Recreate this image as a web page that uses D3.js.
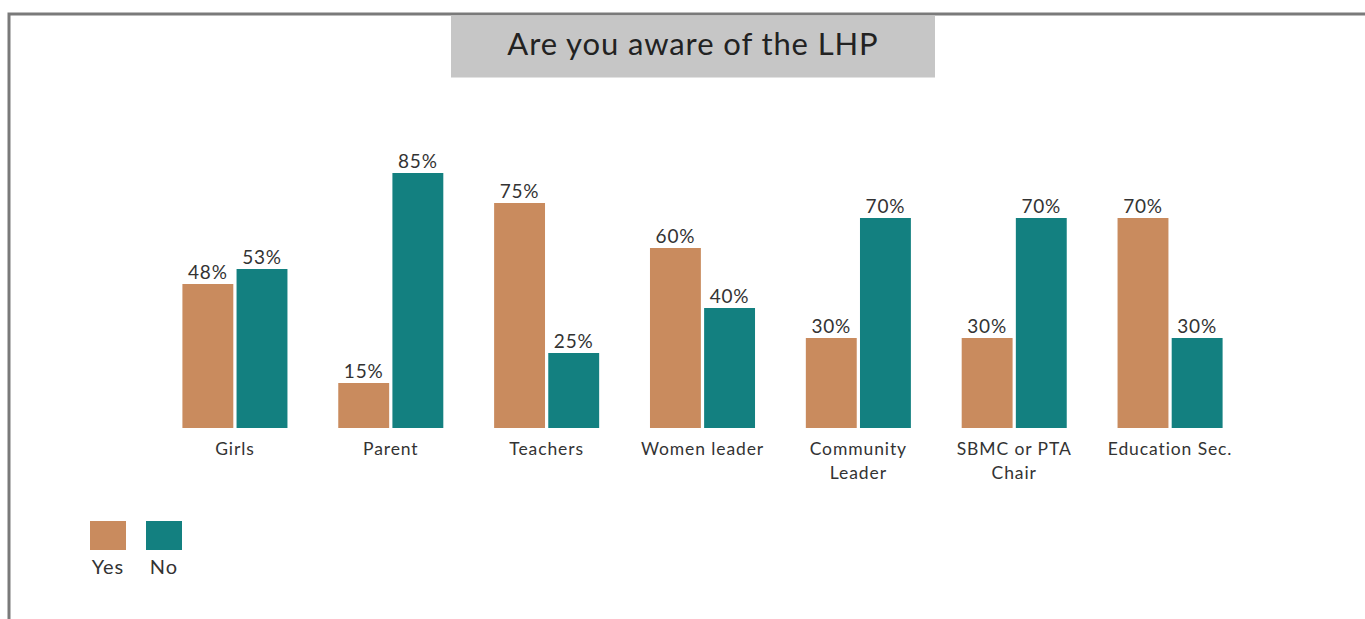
<!DOCTYPE html>
<html>
<head>
<meta charset="utf-8">
<script src="https://cdn.jsdelivr.net/npm/d3@7"></script>
<style>
  html, body { margin: 0; padding: 0; background: #fff; overflow: hidden; }
  svg text { font-family: Lato, "Noto Sans", sans-serif; fill: #333; }
</style>
</head>
<body>
<div id="chart"></div>
<script>
// datos
const categories = ["Girls", "Parent", "Teachers", "Women leader", "Community\nLeader", "SBMC or PTA\nChair", "Education Sec."];
const series = ["Yes", "No"];
const yesValues = [48, 15, 75, 60, 30, 30, 70];
const noValues = [53, 85, 25, 40, 70, 70, 30];
const colors = ["#c98b5e", "#138080"];

const width = 1365;
const height = 619;

const svg = d3
  .select("#chart")
  .append("svg")
  .attr("width", width)
  .attr("height", height);

// marco
svg.append("path")
  .attr("d", `M9,${height + 5} V14 H${width + 5}`)
  .attr("fill", "none")
  .attr("stroke", "#7a7a7a")
  .attr("stroke-width", 3);

// título
svg.append("rect")
  .attr("x", 451)
  .attr("y", 15.5)
  .attr("width", 484)
  .attr("height", 62)
  .attr("fill", "#c6c6c6");

svg.append("text")
  .attr("x", 693)
  .attr("y", 55)
  .attr("text-anchor", "middle")
  .style("font-size", "31px")
  .style("letter-spacing", "0.9px")
  .style("fill", "#222")
  .text("Are you aware of the LHP");

const rows = categories.map((c, i) => ({ cat: c, values: [yesValues[i], noValues[i]] }));

const x0 = d3.scaleBand()
  .domain(categories)
  .range([157, 1248])
  .paddingInner(0.326)
  .paddingOuter(0.163);

const x1 = d3.scaleBand()
  .domain(series)
  .range([0, x0.bandwidth()])
  .paddingInner(0.06);

const y = d3.scaleLinear().domain([0, 100]).range([428, 128]);

const groups = svg.selectAll("g.group")
  .data(rows)
  .enter()
  .append("g")
  .attr("class", "group")
  .attr("transform", (d) => `translate(${x0(d.cat)},0)`);

groups.selectAll("rect")
  .data((d) => d.values.map((v, j) => ({ key: series[j], value: v, j })))
  .enter()
  .append("rect")
  .attr("x", (d) => x1(d.key))
  .attr("y", (d) => y(d.value))
  .attr("width", x1.bandwidth())
  .attr("height", (d) => y(0) - y(d.value))
  .attr("fill", (d) => colors[d.j]);

groups.selectAll("text.val")
  .data((d) => d.values.map((v, j) => ({ key: series[j], value: v })))
  .enter()
  .append("text")
  .attr("class", "val")
  .attr("x", (d) => x1(d.key) + x1.bandwidth() / 2)
  .attr("y", (d) => y(d.value) - 5)
  .attr("text-anchor", "middle")
  .style("font-size", "19px")
  .style("letter-spacing", "0.8px")
  .text((d) => d.value + "%");

// etiquetas de categoría
groups.append("text")
  .attr("class", "cat")
  .attr("x", x0.bandwidth() / 2)
  .attr("y", 455)
  .attr("text-anchor", "middle")
  .style("font-size", "17.5px")
  .style("letter-spacing", "0.9px")
  .each(function (d) {
    const lines = d.cat.split("\n");
    d3.select(this)
      .selectAll("tspan")
      .data(lines)
      .enter()
      .append("tspan")
      .attr("x", x0.bandwidth() / 2)
      .attr("dy", (l, i) => (i === 0 ? 0 : 24))
      .text((l) => l);
  });

// leyenda
const legendX = d3.scaleBand().domain(series).range([90, 182]).paddingInner(0.357);

const legend = svg.selectAll("g.legend")
  .data(series)
  .enter()
  .append("g")
  .attr("class", "legend")
  .attr("transform", (d) => `translate(${legendX(d)},521)`);

legend.append("rect")
  .attr("width", legendX.bandwidth())
  .attr("height", 29)
  .attr("fill", (d, i) => colors[i]);

legend.append("text")
  .attr("x", legendX.bandwidth() / 2)
  .attr("y", 53)
  .attr("text-anchor", "middle")
  .style("font-size", "20px")
  .style("letter-spacing", "1px")
  .text((d) => d);
</script>
</body>
</html>
